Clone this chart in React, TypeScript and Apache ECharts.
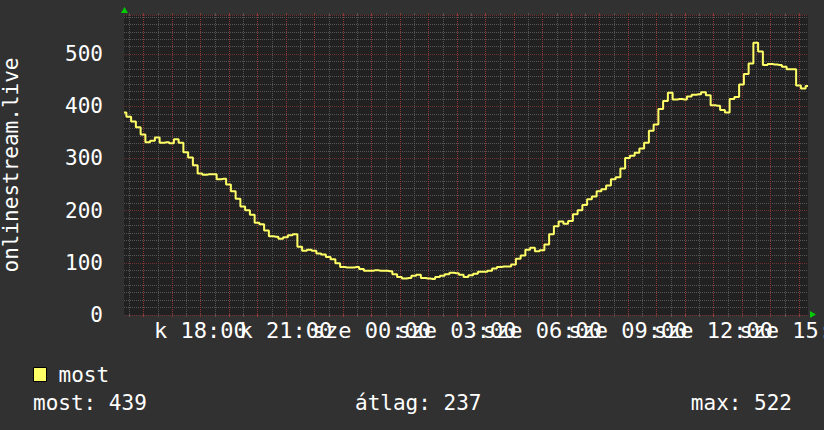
import React, { useEffect, useRef } from "react";
import * as echarts from "echarts";

// Time axis: hours counted from kedd (Tuesday) 00:00
const START_HOUR = 15 + 19 / 60; // k 15:19
const STEP_MINUTES = 10;
const SPAN_HOURS = 24;

// "most" (current viewers), one reading every 10 minutes
const MOST_VALUES = [
  388, 380, 371, 360, 346, 331, 334, 340, 330, 331,
  329, 337, 330, 312, 302, 287, 271, 269, 270, 270,
  260, 261, 250, 237, 223, 208, 201, 192, 177, 174,
  162, 151, 150, 146, 149, 153, 155, 131, 123, 125,
  123, 118, 116, 111, 107, 99, 92, 91, 91, 92,
  88, 85, 85, 86, 85, 85, 84, 78, 73, 70,
  71, 75, 77, 71, 70, 69, 73, 75, 78, 81,
  80, 77, 73, 76, 79, 83, 83, 85, 89, 92,
  93, 93, 97, 108, 114, 125, 129, 122, 124, 135,
  155, 170, 179, 175, 180, 193, 201, 211, 222, 227,
  237, 241, 248, 260, 264, 281, 301, 305, 311, 319,
  330, 353, 365, 395, 410, 426, 413, 414, 413, 419,
  422, 423, 427, 421, 402, 401, 393, 388, 414, 418,
  442, 462, 482, 522, 505, 479, 481, 480, 479, 476,
  471, 471, 440, 434, 439,
];

const X_TICK_HOURS = [18, 21, 24, 27, 30, 33, 36, 39];
const X_TICK_LABELS = [
  "k 18:00",
  "k 21:00",
  "sze 00:00",
  "sze 03:00",
  "sze 06:00",
  "sze 09:00",
  "sze 12:00",
  "sze 15:00",
];

const Y_MAX = 575;
const Y_MAJOR = 100;
const Y_MINOR = 100 / 7;

const SERIES_NAME = "most";
const Y_TITLE = "onlinestream.live";
const STAT_LABELS = ["most", "átlag", "max"];
const STAT_VALUES = [439, 237, 522];

const FONT = "DejaVu Sans Mono";
const TEXT = "#ffffff";
const LINE = "#ffff66";
const GRID_MINOR = "#555555";
const GRID_MAJOR = "#703030";
const VGRID_MAJOR = "#8c3838";

export default function App() {
  const ref = useRef<HTMLDivElement>(null);

  useEffect(() => {
    if (!ref.current) return;
    const chart = echarts.init(ref.current, null, { renderer: "svg" });

    const seriesData = MOST_VALUES.map((v, i) => [
      START_HOUR + (i * STEP_MINUTES) / 60,
      v,
    ]);

    const xMin = START_HOUR;
    const xMax = START_HOUR + SPAN_HOURS;

    // vertical grid: every half hour; whole hours are major (1), half hours minor (0)
    const vGrid: number[][] = [];
    for (let h = Math.ceil(xMin * 2) / 2; h <= xMax + 1e-9; h += 0.5) {
      vGrid.push([h, Math.abs(h - Math.round(h)) < 1e-6 ? 1 : 0]);
    }

    // blank placeholder labels at both ends keep the real first/last labels visible
    const labelValues = [xMin, ...X_TICK_HOURS, xMax];

    chart.setOption({
      animation: false,
      backgroundColor: "#313131",
      textStyle: { fontFamily: FONT },
      grid: {
        left: 124,
        top: 15,
        width: 684,
        height: 300,
        show: true,
        backgroundColor: "#212121",
        borderWidth: 0,
        containLabel: false,
        outerBoundsMode: "none",
        z: 0,
      },
      legend: {
        left: 33,
        top: 364,
        padding: 0,
        itemWidth: 13,
        itemHeight: 14,
        icon: "rect",
        data: [{ name: SERIES_NAME, icon: "rect" }],
        itemStyle: { borderColor: "#000000", borderWidth: 1 },
        textStyle: {
          color: TEXT,
          fontSize: 21,
          fontFamily: FONT,
          padding: [0, 0, 0, 7],
        },
      },
      xAxis: {
        type: "value",
        min: xMin,
        max: xMax,
        z: 4,
        axisLine: { show: false },
        axisTick: { show: false },
        splitLine: { show: false },
        axisLabel: {
          customValues: labelValues,
          color: TEXT,
          fontSize: 22,
          fontFamily: FONT,
          margin: 4,
          hideOverlap: false,
          formatter: (v: number) => {
            const i = X_TICK_HOURS.findIndex((h) => Math.abs(h - v) < 1e-6);
            return i >= 0 ? X_TICK_LABELS[i] : " ";
          },
        },
      },
      yAxis: [
        {
          type: "value",
          min: 0,
          max: Y_MAX,
          interval: Y_MAJOR,
          z: 3,
          name: Y_TITLE,
          nameLocation: "middle",
          nameRotate: 90,
          nameGap: 103,
          nameTextStyle: { color: TEXT, fontSize: 21, fontFamily: FONT },
          axisLine: { show: false },
          axisTick: { show: false },
          axisLabel: {
            color: TEXT,
            fontSize: 21,
            fontFamily: FONT,
            margin: 21,
            showMaxLabel: false,
          },
          splitLine: {
            show: true,
            lineStyle: { color: GRID_MAJOR, width: 1, type: [1, 1] },
          },
        },
        {
          type: "value",
          min: 0,
          max: Y_MAX,
          interval: Y_MINOR,
          z: 1,
          axisLine: { show: false },
          axisTick: { show: false },
          axisLabel: { show: false },
          splitLine: {
            show: true,
            lineStyle: { color: GRID_MINOR, width: 1, type: [1, 1] },
          },
        },
      ],
      graphic: [
        {
          type: "polygon",
          shape: { points: [[121, 13], [124.5, 7], [128, 13]] },
          style: { fill: "#00cc00" },
        },
        {
          type: "polygon",
          shape: { points: [[810, 311], [816, 314.5], [810, 318]] },
          style: { fill: "#00cc00" },
        },
        {
          type: "text",
          x: 33,
          y: 403,
          style: {
            text: `${STAT_LABELS[0]}: ${STAT_VALUES[0]}`,
            fill: TEXT,
            fontSize: 21,
            fontFamily: FONT,
            align: "left",
            verticalAlign: "middle",
          },
        },
        {
          type: "text",
          x: 355,
          y: 403,
          style: {
            text: `${STAT_LABELS[1]}: ${STAT_VALUES[1]}`,
            fill: TEXT,
            fontSize: 21,
            fontFamily: FONT,
            align: "left",
            verticalAlign: "middle",
          },
        },
        {
          type: "text",
          x: 792,
          y: 403,
          style: {
            text: `${STAT_LABELS[2]}: ${STAT_VALUES[2]}`,
            fill: TEXT,
            fontSize: 21,
            fontFamily: FONT,
            align: "right",
            verticalAlign: "middle",
          },
        },
      ],
      series: [
        {
          type: "custom",
          name: "vgrid",
          coordinateSystem: "cartesian2d",
          xAxisIndex: 0,
          yAxisIndex: 0,
          data: vGrid,
          silent: true,
          clip: false,
          z: 2,
          renderItem: (_params: any, api: any) => {
            const h = api.value(0);
            const major = api.value(1) === 1;
            const bottom = api.coord([h, 0]);
            const top = api.coord([h, Y_MAX]);
            const x = Math.round(bottom[0]) + 0.5;
            const y0 = Math.round(top[1]);
            const y1 = Math.round(bottom[1]);
            const color = major ? VGRID_MAJOR : GRID_MINOR;
            return {
              type: "group",
              children: [
                {
                  type: "line",
                  shape: { x1: x, y1: y0, x2: x, y2: y1 },
                  style: { stroke: color, lineWidth: 1, lineDash: [1, 1] },
                  z2: major ? 2 : 1,
                },
                {
                  type: "line",
                  shape: { x1: x, y1: y0 - 2, x2: x, y2: y0 + 1 },
                  style: { stroke: color, lineWidth: 1 },
                },
                {
                  type: "line",
                  shape: { x1: x, y1: y1 - 1, x2: x, y2: y1 + 2 },
                  style: { stroke: color, lineWidth: 1 },
                },
              ],
            };
          },
        },
        {
          type: "line",
          name: SERIES_NAME,
          data: seriesData,
          xAxisIndex: 0,
          yAxisIndex: 0,
          step: "middle",
          showSymbol: false,
          z: 4,
          itemStyle: { color: LINE },
          lineStyle: { color: LINE, width: 2 },
        },
      ],
    });

    return () => chart.dispose();
  }, []);

  return (
    <div
      ref={ref}
      style={{ position: "fixed", left: 0, top: 0, width: 824, height: 430 }}
    />
  );
}
